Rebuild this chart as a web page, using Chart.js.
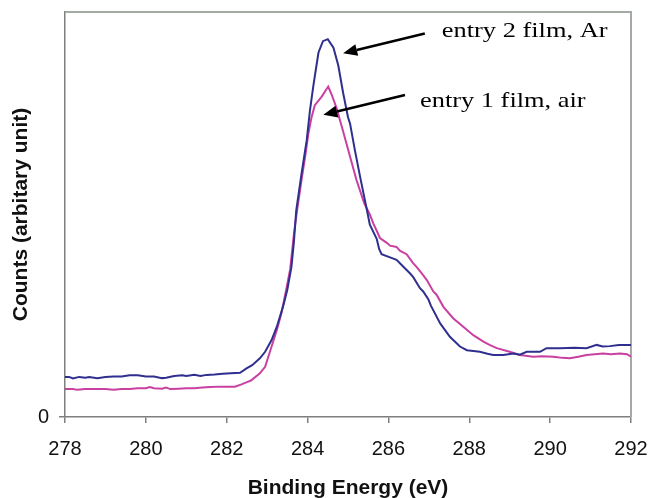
<!DOCTYPE html>
<html>
<head>
<meta charset="utf-8">
<script src="https://cdn.jsdelivr.net/npm/chart.js@4/dist/chart.umd.min.js"></script>
<style>
  html, body { margin: 0; padding: 0; background: #fff; }
  #wrap { width: 651px; height: 498px; }
</style>
</head>
<body>
<div id="wrap"><canvas id="chart"></canvas></div>
<script>
// binding energy (eV) and counts
const arEnergy = [278.0, 278.1, 278.2, 278.35, 278.5, 278.6, 278.8, 279.0, 279.2, 279.4, 279.6, 279.8,
  280.0, 280.2, 280.4, 280.5, 280.7, 280.9, 281.0, 281.2, 281.35, 281.5, 281.7, 281.9, 282.1, 282.33,
  282.49, 282.63, 282.82, 282.95, 283.11, 283.24, 283.4, 283.5, 283.6, 283.66, 283.72, 283.85, 283.98,
  284.06, 284.14, 284.2, 284.27, 284.38, 284.5, 284.64, 284.76, 284.88, 285.0, 285.05, 285.17,
  285.3, 285.46, 285.54, 285.71, 285.77, 285.83, 286.04, 286.2, 286.37, 286.53, 286.61, 286.78, 286.86,
  286.99, 287.05, 287.28, 287.52, 287.77, 287.94, 288.1, 288.26, 288.45, 288.59, 288.84, 289.09, 289.25,
  289.42, 289.75, 289.91, 290.24, 290.6, 290.9, 291.15, 291.3, 291.48, 291.7, 292.0];
const arCounts = [9.9, 9.9, 9.5, 9.9, 9.7, 9.9, 9.6, 9.9, 10.0, 10.0, 10.3, 10.3,
  10.0, 10.0, 9.6, 9.7, 10.1, 10.3, 10.1, 10.4, 10.1, 10.4, 10.5, 10.7, 10.8, 10.9,
  12.0, 12.8, 14.5, 16.1, 19.0, 22.3, 27.5, 31.5, 37, 43, 51, 60, 68.4,
  75.8, 81.6, 85.5, 90, 92.8, 93.3, 91.2, 86.8, 80, 74, 72.5, 65.9,
  59.3, 51.5, 47.5, 44.0, 41.5, 40.2, 39.4, 38.8, 37.1, 35.5, 34.6, 31.8, 31.0,
  29.0, 27.5, 23.1, 19.8, 17.4, 16.5, 16.3, 16.1, 15.6, 15.3, 15.3, 15.7, 15.4,
  16.1, 16.1, 17.0, 17.0, 17.1, 17.0, 17.8, 17.4, 17.5, 17.8, 17.8];

const airEnergy = [278.0, 278.2, 278.3, 278.5, 278.7, 279.0, 279.2, 279.4, 279.6, 279.8, 280.0, 280.1,
  280.2, 280.4, 280.5, 280.6, 280.8, 281.0, 281.2, 281.4, 281.6, 281.8, 282.0, 282.2, 282.35, 282.5,
  282.6, 282.82, 282.95, 283.11, 283.24, 283.35, 283.47, 283.57, 283.66, 283.73, 283.85, 283.94, 284.02,
  284.1, 284.18, 284.35, 284.51, 284.6, 284.72, 284.88, 285.05, 285.21, 285.4, 285.54, 285.63, 285.71,
  285.79, 285.96, 286.04, 286.2, 286.29, 286.45, 286.61, 286.7, 286.82, 286.95, 287.11, 287.19, 287.36,
  287.6, 287.85, 288.1, 288.35, 288.5, 288.68, 289.0, 289.25, 289.58, 289.8, 290.08, 290.3, 290.49,
  290.7, 290.9, 291.1, 291.31, 291.5, 291.73, 291.9, 292.0];
const airCounts = [6.9, 6.9, 6.7, 6.9, 6.9, 6.9, 6.7, 6.9, 6.9, 7.1, 7.1, 7.4,
  7.1, 7.0, 7.3, 6.9, 7.0, 7.1, 7.1, 7.3, 7.4, 7.5, 7.5, 7.5, 8.0, 8.6,
  9.0, 10.8, 12.4, 17.4, 21.5, 25.5, 31.4, 36.5, 45, 50.3, 58.5, 64.3, 70,
  74.1, 77, 79.1, 81.6, 79.5, 76.2, 70.5, 64.3, 58.5, 52.8, 50.0, 47.7, 46.0,
  44.2, 43.0, 42.3, 42.0, 41.0, 40.2, 38.0, 37.0, 35.5, 33.8, 31.0, 30.2, 27.2,
  24.4, 22.3, 20.2, 18.6, 17.8, 17.0, 16.1, 15.3, 14.9, 15.0, 14.9, 14.6, 14.5,
  14.9, 15.3, 15.5, 15.7, 15.5, 15.7, 15.5, 14.9];

const xTicks = [278, 280, 282, 284, 286, 288, 290, 292];

// labels with arrows: text anchor and arrow tail/head, in data units
const notes = [
  { text: 'entry 2 film, Ar', at: [287.32, 93.9], from: [286.9, 94.7], to: [284.88, 89.8] },
  { text: 'entry 1 film, air', at: [286.78, 76.6], from: [286.41, 79.5], to: [284.39, 74.6] }
];

function toPoints(xs, ys) {
  return xs.map((x, i) => ({ x: x, y: ys[i] }));
}

const framePlugin = {
  id: 'frame',
  beforeDatasetsDraw(chart) {
    const a = chart.chartArea;
    const c = chart.ctx;
    c.save();
    c.strokeStyle = '#a3aaa3';
    c.lineWidth = 2;
    c.beginPath();
    c.moveTo(a.left, a.top);
    c.lineTo(a.right, a.top);
    c.lineTo(a.right, a.bottom);
    c.stroke();
    c.restore();
  }
};

const notesPlugin = {
  id: 'notes',
  afterDatasetsDraw(chart) {
    const c = chart.ctx;
    const xs = chart.scales.x, ys = chart.scales.y;
    c.save();
    notes.forEach(n => {
      const x1 = xs.getPixelForValue(n.from[0]), y1 = ys.getPixelForValue(n.from[1]);
      const x2 = xs.getPixelForValue(n.to[0]), y2 = ys.getPixelForValue(n.to[1]);
      const ang = Math.atan2(y2 - y1, x2 - x1);
      const len = 14, half = 6;
      const bx = x2 - len * Math.cos(ang), by = y2 - len * Math.sin(ang);
      c.strokeStyle = '#000';
      c.fillStyle = '#000';
      c.lineWidth = 2.5;
      c.beginPath();
      c.moveTo(x1, y1);
      c.lineTo(bx, by);
      c.stroke();
      c.beginPath();
      c.moveTo(x2, y2);
      c.lineTo(bx + half * Math.sin(ang), by - half * Math.cos(ang));
      c.lineTo(bx - half * Math.sin(ang), by + half * Math.cos(ang));
      c.closePath();
      c.fill();

      const tx = xs.getPixelForValue(n.at[0]), ty = ys.getPixelForValue(n.at[1]);
      c.save();
      c.translate(tx, ty);
      c.scale(1.2, 1);
      c.font = '22px "Liberation Serif", "Times New Roman", serif';
      c.textBaseline = 'alphabetic';
      c.textAlign = 'left';
      c.fillText(n.text, 0, 0);
      c.restore();
    });
    c.restore();
  }
};

const ctx = document.getElementById('chart').getContext('2d');
const chart = new Chart(ctx, {
  type: 'line',
  data: {
    datasets: [{
      label: 'entry 2 film, Ar',
      data: toPoints(arEnergy, arCounts),
      borderColor: '#2f2f8f',
      borderWidth: 2,
      pointRadius: 0,
      tension: 0,
      fill: false
    }, {
      label: 'entry 1 film, air',
      data: toPoints(airEnergy, airCounts),
      borderColor: '#c940a0',
      borderWidth: 2,
      pointRadius: 0,
      tension: 0,
      fill: false
    }]
  },
  options: {
    responsive: true,
    maintainAspectRatio: false,
    animation: false,
    layout: { padding: { top: 12, right: 20, left: 0, bottom: -3 } },
    plugins: {
      legend: { display: false },
      tooltip: { enabled: false }
    },
    scales: {
      x: {
        type: 'linear',
        min: 278,
        max: 292,
        afterBuildTicks: s => { s.ticks = xTicks.map(v => ({ value: v })); },
        afterFit: s => { s.height = 84; s.paddingLeft = 0; s.paddingRight = 0; },
        grid: { drawOnChartArea: false, tickLength: 6, color: '#7f7f7f', lineWidth: 1.5 },
        border: { color: '#7f7f7f', width: 1.5 },
        ticks: {
          color: '#111',
          padding: 14,
          maxRotation: 0,
          font: { family: '"Liberation Sans", Arial, sans-serif', size: 20 }
        },
        title: {
          display: true,
          text: 'Binding Energy (eV)',
          color: '#111',
          padding: { top: 0, bottom: 0 },
          font: { family: '"Liberation Sans", Arial, sans-serif', size: 21, weight: 'bold' }
        }
      },
      y: {
        min: 0,
        max: 100,
        afterBuildTicks: s => { s.ticks = [{ value: 0 }]; },
        afterFit: s => { s.width = 65; s.paddingTop = 0; s.paddingBottom = 0; },
        grid: { drawOnChartArea: false, tickLength: 6, color: '#7f7f7f', lineWidth: 1.5 },
        border: { color: '#7f7f7f', width: 1.5 },
        ticks: {
          color: '#111',
          padding: 10,
          font: { family: '"Liberation Sans", Arial, sans-serif', size: 20 }
        },
        title: {
          display: true,
          text: 'Counts (arbitary unit)',
          color: '#111',
          padding: { top: 9, bottom: 0 },
          font: { family: '"Liberation Sans", Arial, sans-serif', size: 21, weight: 'bold' }
        }
      }
    }
  },
  plugins: [framePlugin, notesPlugin]
});
</script>
</body>
</html>
